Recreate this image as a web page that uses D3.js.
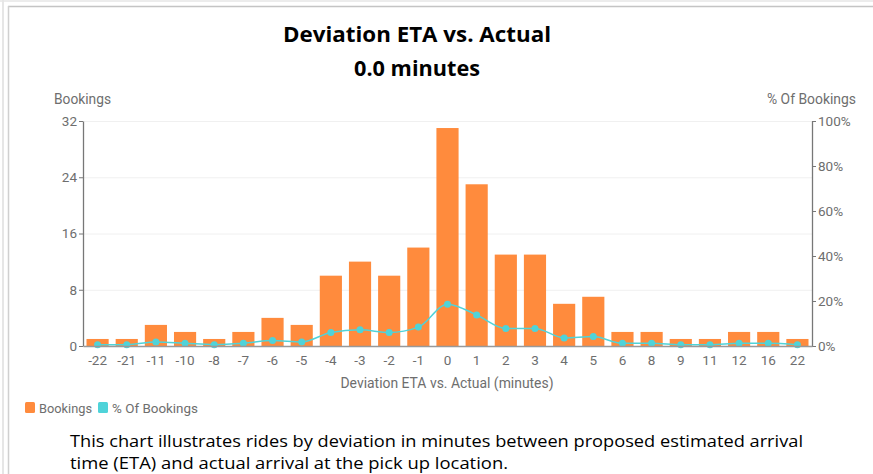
<!DOCTYPE html>
<html>
<head>
<meta charset="utf-8">
<script src="https://cdn.jsdelivr.net/npm/d3@7"></script>
<style>
  html, body { margin: 0; padding: 0; background: #fff; }
  svg { display: block; }
</style>
</head>
<body>
<svg id="chart" width="873" height="474"></svg>
<script>
// Deviation categories (minutes) and booking counts
const categories = ["-22","-21","-11","-10","-8","-7","-6","-5","-4","-3","-2","-1","0","1","2","3","4","5","6","8","9","11","12","16","22"];
const bookings   = [1,1,3,2,1,2,4,3,10,12,10,14,31,23,13,13,6,7,2,2,1,1,2,2,1];
// Share of all bookings per category (percent)
const pctBookings = [0.6,0.6,1.8,1.2,0.6,1.2,2.4,1.8,6.0,7.2,6.0,8.4,18.6,13.8,7.8,7.8,3.6,4.2,1.2,1.2,0.6,0.6,1.2,1.2,0.6];
const leftTicks  = [0, 8, 16, 24, 32];
const rightTicks = [0, 20, 40, 60, 80, 100];

const titleLines = ["Deviation ETA vs. Actual", "0.0 minutes"];
const descriptionLines = [
  "This chart illustrates rides by deviation in minutes between proposed estimated arrival",
  "time (ETA) and actual arrival at the pick up location."
];

const svg = d3.select("#chart");
const orange = "#ff8b3d", teal = "#4fd3d9", axisGrey = "#777", textGrey = "#6e6e6e";
const axisFont = "Roboto, 'Liberation Sans', sans-serif";
const bodyFont = "'Open Sans', 'Noto Sans', sans-serif";

// card frame
svg.append("line").attr("x1", 0).attr("x2", 873).attr("y1", 1).attr("y2", 1).attr("stroke", "#ececec").attr("stroke-width", 2);
svg.append("line").attr("x1", 3).attr("x2", 3).attr("y1", 0).attr("y2", 474).attr("stroke", "#e6e6e6").attr("stroke-width", 2);
svg.append("line").attr("x1", 8).attr("x2", 873).attr("y1", 6.5).attr("y2", 6.5).attr("stroke", "#c4c4c4").attr("stroke-width", 1.5);
svg.append("line").attr("x1", 8.5).attr("x2", 8.5).attr("y1", 6).attr("y2", 474).attr("stroke", "#d0d0d0").attr("stroke-width", 1.5);

const plot = { left: 83, right: 812, top: 121, bottom: 346 };

const x = d3.scaleBand().domain(categories).range([plot.left, plot.right]).paddingInner(0.24).paddingOuter(0.12);
const yL = d3.scaleLinear().domain([0, 32]).range([plot.bottom, plot.top]);
const yR = d3.scaleLinear().domain([0, 100]).range([plot.bottom, plot.top]);

// title
svg.append("g").selectAll("text").data(titleLines).join("text")
  .attr("x", 417).attr("y", (d, i) => 42 + i * 34)
  .attr("text-anchor", "middle")
  .attr("font-family", bodyFont).attr("font-weight", 700).attr("font-size", 22)
  .attr("textLength", (d, i) => i === 0 ? 268 : 126).attr("lengthAdjust", "spacingAndGlyphs")
  .attr("fill", "#000").text(d => d);

// gridlines
svg.append("g").selectAll("line").data(leftTicks.slice(1)).join("line")
  .attr("x1", plot.left).attr("x2", plot.right)
  .attr("y1", d => yL(d) + 0.5).attr("y2", d => yL(d) + 0.5)
  .attr("stroke", "#f0f0f0").attr("stroke-width", 1);

// bars
svg.append("g").selectAll("rect").data(categories).join("rect")
  .attr("x", d => x(d)).attr("width", x.bandwidth())
  .attr("y", (d, i) => yL(bookings[i]))
  .attr("height", (d, i) => yL(0) - yL(bookings[i]))
  .attr("fill", orange);

// percentage line
const line = d3.line()
  .x((d, i) => x(categories[i]) + x.bandwidth() / 2)
  .y(d => yR(d))
  .curve(d3.curveMonotoneX);
svg.append("path").datum(pctBookings).attr("d", line)
  .attr("fill", "none").attr("stroke", teal).attr("stroke-width", 1.5);
svg.append("g").selectAll("circle").data(pctBookings).join("circle")
  .attr("cx", (d, i) => x(categories[i]) + x.bandwidth() / 2)
  .attr("cy", d => yR(d)).attr("r", 3.5).attr("fill", teal);

// left axis
const gL = svg.append("g").attr("transform", `translate(${plot.left},0)`)
  .call(d3.axisLeft(yL).tickValues(leftTicks).tickSize(4).tickSizeOuter(0).tickPadding(2));
// right axis
const gR = svg.append("g").attr("transform", `translate(${plot.right},0)`)
  .call(d3.axisRight(yR).tickValues(rightTicks).tickFormat(d => d + "%").tickSize(4).tickSizeOuter(0).tickPadding(2));
// bottom axis
const gB = svg.append("g").attr("transform", `translate(0,${plot.bottom})`)
  .call(d3.axisBottom(x).tickSize(0).tickSizeOuter(0).tickPadding(9));

[gL, gR, gB].forEach(g => {
  g.selectAll(".domain").attr("stroke", axisGrey).attr("stroke-width", 1.3);
  g.selectAll(".tick line").attr("stroke", axisGrey);
  g.selectAll("text").attr("font-family", axisFont).attr("font-size", 13.5).attr("fill", textGrey);
});
gB.select(".domain").attr("stroke", "#999");

// axis titles
const axisTitle = (xp, yp, anchor, txt, len) => svg.append("text")
  .attr("x", xp).attr("y", yp).attr("text-anchor", anchor)
  .attr("font-family", axisFont).attr("font-size", 14).attr("fill", textGrey)
  .attr("textLength", len).attr("lengthAdjust", "spacingAndGlyphs").text(txt);
axisTitle(54, 104, "start", "Bookings", 57);
axisTitle(856, 104, "end", "% Of Bookings", 89);
axisTitle(447, 388, "middle", "Deviation ETA vs. Actual (minutes)", 213);

// legend
const legendItems = [
  { label: "Bookings", color: orange, x: 25, len: 53 },
  { label: "% Of Bookings", color: teal, x: 98, len: 86 }
];
const lg = svg.append("g").selectAll("g").data(legendItems).join("g")
  .attr("transform", d => `translate(${d.x},402)`);
lg.append("rect").attr("width", 10).attr("height", 11).attr("rx", 1.5).attr("fill", d => d.color);
lg.append("text").attr("x", 14).attr("y", 10.5)
  .attr("font-family", axisFont).attr("font-size", 13).attr("fill", textGrey)
  .attr("textLength", d => d.len).attr("lengthAdjust", "spacingAndGlyphs")
  .text(d => d.label);

// description
svg.append("g").selectAll("text").data(descriptionLines).join("text")
  .attr("x", 70).attr("y", (d, i) => 447 + i * 22)
  .attr("font-family", bodyFont).attr("font-size", 17).attr("fill", "#000")
  .attr("textLength", (d, i) => i === 0 ? 733 : 438).attr("lengthAdjust", "spacingAndGlyphs")
  .text(d => d);
</script>
</body>
</html>
